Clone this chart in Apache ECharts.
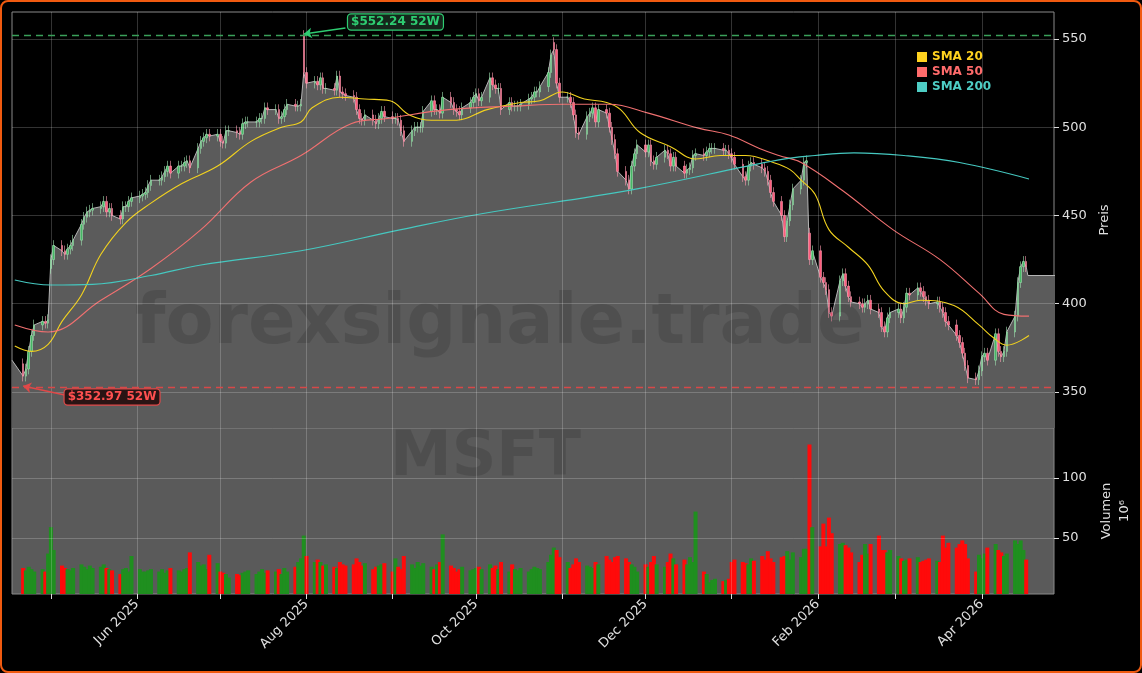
<!DOCTYPE html>
<html><head><meta charset="utf-8">
<script src="https://cdn.jsdelivr.net/npm/echarts@6/dist/echarts.min.js"></script>
<style>html,body{margin:0;padding:0;background:#000;}#c{width:1142px;height:673px;}
#b{position:absolute;left:0;top:0;width:1142px;height:673px;box-sizing:border-box;border:2px solid #f05a10;border-radius:8px;pointer-events:none;}</style>
</head><body><div id="c"></div><div id="b"></div>
<script>
// Daily closes, Mon-Fri weeks starting 2025-04-21
const closes = [
359,363,373,382,388, 390,389,391,425,433, 430,428,431,433,436, 445,449,452,453,454,
455,458,452,454,450, 448,455,455,458,460, 461,462,463,467,470, 470,472,475,478,474,
478,478,480,481,477, 488,492,494,496,495, 496,492,491,498,498, 497,496,502,503,503,
503,505,505,511,510, 510,505,506,510,513, 512,512,513,531,525, 526,524,528,522,522,
521,529,520,519,518, 517,510,505,504,507, 504,502,505,509,506, 505,505,504,498,492,
498,500,500,500,509, 515,510,510,508,517, 514,510,509,507,511, 514,517,519,515,517,
528,524,522,522,510, 514,512,512,512,513, 516,517,520,520,523, 531,541,544,525,517,
517,514,507,497,496, 506,508,511,503,510, 508,500,493,485,475, 470,465,478,485,490,
486,490,481,479,483, 487,485,478,483,478, 474,476,477,484,485, 484,486,488,488,488,
487,487,485,483,479, 472,470,478,480,479, 477,475,470,463,458, 450,438,447,456,465,
470,480,481,425,430, 415,412,408,395,393, 413,417,410,404,401, 400,398,400,402,397,
395,387,384,392,395, 397,392,398,406,405, 409,407,404,402,400, 401,398,395,390,388,
382,378,372,365,358, 357,362,370,372,368, 383,373,370,373,384, 393,412,421,424,421];
// Volume in millions
const volumes = [
25,23,26,24,22, 24,22,37,59,40, 27,25,24,23,25, 28,26,24,27,25,
26,28,25,24,23, 20,24,25,22,35, 24,22,22,23,24, 22,24,21,23,25,
23,22,24,25,38, 30,27,28,24,36, 29,22,21,20,17, 20,19,21,22,23,
20,22,24,21,23, 22,24,20,25,22, 26,30,33,52,35, 30,32,30,27,28,
26,25,30,28,27, 28,33,30,27,29, 24,26,27,28,29, 22,33,26,24,35,
28,25,30,27,29, 26,24,28,30,53, 27,25,22,24,26, 23,24,25,26,24,
28,25,27,24,30, 22,28,24,23,25, 22,24,26,25,24, 30,36,42,40,34,
30,25,28,33,30, 27,26,25,30,28, 35,32,30,34,35, 33,30,28,26,22,
28,26,30,35,28, 26,30,37,33,28, 32,28,34,30,72, 22,20,13,15,16,
14,15,16,30,32, 30,29,28,33,31, 35,32,39,33,30, 34,35,39,32,38,
34,41,41,128,59, 43,62,43,67,54, 45,46,44,42,38, 30,36,45,37,45,
52,40,40,38,40, 35,33,31,32,33, 34,30,31,32,33, 31,30,52,42,46,
42,45,48,45,33, 22,36,33,37,42, 45,40,38,35,37, 48,45,48,40,32];
const firstOpen = 366;
const priorDate = '2025-04-17', priorClose = 368;
const gapDates = ['2025-05-01','2025-07-31','2025-10-29','2026-01-29'];
const gapOpens = [420, 552, 548, 440];
const sma20 = [['2025-04-18',376],['2025-04-24',373],['2025-04-30',377],['2025-05-05',390],['2025-05-12',405],['2025-05-19',428],['2025-05-28',446],['2025-06-06',457],['2025-06-17',468],['2025-06-30',478],['2025-07-12',492],['2025-07-23',500],['2025-07-30',503],['2025-08-03',511],['2025-08-13',517],['2025-08-22',516],['2025-08-31',515],['2025-09-07',507],['2025-09-15',504],['2025-09-24',504],['2025-10-05',510],['2025-10-17',514],['2025-10-24',515],['2025-11-01',520],['2025-11-09',516],['2025-11-17',514],['2025-11-22',510],['2025-11-29',497],['2025-12-10',489],['2025-12-19',482],['2025-12-28',484],['2026-01-06',484],['2026-01-16',480],['2026-01-22',476],['2026-01-26',470],['2026-01-31',462],['2026-02-05',442],['2026-02-12',432],['2026-02-19',422],['2026-02-25',407],['2026-03-04',400],['2026-03-10',402],['2026-03-22',399],['2026-03-31',388],['2026-04-05',381],['2026-04-10',376.5],['2026-04-18',382]];
const sma50 = [['2025-04-18',388],['2025-04-30',384],['2025-05-19',402],['2025-06-06',420],['2025-06-24',442],['2025-07-12',469],['2025-07-30',484],['2025-08-17',502],['2025-08-30',505],['2025-09-21',510],['2025-10-15',512],['2025-11-02',513],['2025-11-18',513],['2025-12-02',508],['2025-12-20',499.5],['2025-12-31',495.6],['2026-01-11',488],['2026-01-18',484],['2026-01-26',480],['2026-02-10',464],['2026-02-28',442],['2026-03-17',425],['2026-03-31',406],['2026-04-09',394],['2026-04-18',393]];
const sma200 = [['2025-04-18',413.5],['2025-05-01',410.6],['2025-05-16',411],['2025-06-06',416],['2025-06-24',422],['2025-07-30',430],['2025-09-04',442],['2025-10-03',451],['2025-11-26',464.5],['2026-01-18',481.5],['2026-01-31',484],['2026-02-14',485.5],['2026-03-04',484],['2026-03-24',480],['2026-04-18',470.7]];
const priceTicks = [350,400,450,500,550];
const volTicks = [50,100];
const high52 = 552.24, low52 = 352.97;
const monthTicks = ['2025-05-01','2025-06-01','2025-07-01','2025-08-01','2025-09-01','2025-10-01','2025-11-01','2025-12-01','2026-01-01','2026-02-01','2026-03-01','2026-04-01'];
const labelMonths = ['2025-06-01','2025-08-01','2025-10-01','2025-12-01','2026-02-01','2026-04-01'];
const monthNames = ['Jan','Feb','Mar','Apr','May','Jun','Jul','Aug','Sep','Oct','Nov','Dec'];

const DAY = 86400000;
const ts = s => Date.parse(s+'T00:00:00Z');
const start = Date.UTC(2025,3,21);
const dates = closes.map((_, i) => start + (Math.floor(i/5)*7 + i%5)*DAY);
const iso = t => new Date(t).toISOString().slice(0,10);
const gapMap = {}; gapDates.forEach((d,i)=>gapMap[d]=gapOpens[i]);
const candles = closes.map((c,i) => {
  let o = i===0 ? firstOpen : closes[i-1];
  const d = iso(dates[i]); if (gapMap[d]!==undefined) o = gapMap[d];
  const w = 3;
  return [dates[i], o, c, Math.min(o,c)-w, Math.max(o,c)+w];
});
const lastT = dates[dates.length-1];
const area = [[ts(priorDate), priorClose]].concat(closes.map((c,i)=>[dates[i],c]));
area.push([lastT+DAY*0.6, 416]); area.push([Date.UTC(2026,3,28), 416]);
const vol = volumes.map((v,i)=>({value:[dates[i],v], itemStyle:{color: (i>0 && closes[i]<closes[i-1]) || (i===0) ? '#ff0a0a' : '#1f8f1f'}}));
const xMin = ts('2025-04-17'), xMax = ts('2026-04-27');
const gridColor = 'rgba(255,255,255,0.2)';
const vLines = monthTicks.map(m=>({xAxis: ts(m)}));

const chart = echarts.init(document.getElementById('c'));
const xBase = {type:'value', min:xMin, max:xMax, scale:true, splitLine:{show:false}, axisLine:{show:false}};
chart.setOption({
  animation:false,
  backgroundColor:'#000',
  grid:[
    {left:12, right:88, top:12, height:416, show:true, backgroundColor:'#000', borderColor:'#8a8a8a', borderWidth:1},
    {left:12, right:88, top:428, height:166, show:true, backgroundColor:'#5a5a5a', borderColor:'#8a8a8a', borderWidth:1}
  ],
  legend:{left:912, top:46, orient:'vertical', itemGap:3, itemWidth:10, itemHeight:10, icon:'rect',
    textStyle:{fontWeight:'bold', fontSize:12, fontFamily:'DejaVu Sans'},
    data:[{name:'SMA 20', textStyle:{color:'#ffd21f'}},{name:'SMA 50', textStyle:{color:'#ff6b6b'}},{name:'SMA 200', textStyle:{color:'#4ecdc4'}}]},
  xAxis:[
    Object.assign({gridIndex:0, axisTick:{show:false}, axisLabel:{show:false}}, xBase),
    Object.assign({gridIndex:1,
      axisTick:{show:true, length:5, inside:false, lineStyle:{color:'#ddd'}, customValues: monthTicks.map(ts)},
      axisLabel:{show:true, rotate:45, color:'#e0e0e0', fontSize:13, fontFamily:'DejaVu Sans', margin:8,
        customValues: labelMonths.map(ts), formatter: v => { const d=new Date(v); return monthNames[d.getUTCMonth()]+' '+d.getUTCFullYear(); }}}, xBase)
  ],
  yAxis:[
    {gridIndex:0, type:'value', position:'right', min:329.6, max:565.3, splitLine:{show:false},
     axisLine:{show:false}, axisTick:{show:true, length:5, lineStyle:{color:'#ddd'}, customValues:priceTicks},
     axisLabel:{color:'#e0e0e0', fontSize:13, fontFamily:'DejaVu Sans', margin:8, customValues:priceTicks},
     name:'Preis', nameLocation:'middle', nameRotate:90, nameGap:42, nameTextStyle:{color:'#e0e0e0', fontSize:13, fontFamily:'DejaVu Sans'}},
    {gridIndex:1, type:'value', position:'right', min:3.3, max:141.7, splitLine:{show:false},
     axisLine:{show:false}, axisTick:{show:true, length:5, lineStyle:{color:'#ddd'}, customValues:volTicks},
     axisLabel:{color:'#e0e0e0', fontSize:13, fontFamily:'DejaVu Sans', margin:8, customValues:volTicks},
     name:'Volumen\n10⁶', nameLocation:'middle', nameRotate:90, nameGap:38, nameTextStyle:{color:'#e0e0e0', fontSize:13, fontFamily:'DejaVu Sans', lineHeight:18}}
  ],
  graphic:[
    {type:'text', left:135, top:290, z:5, silent:true, style:{text:'forexsignale.trade', font:'bold 70px "DejaVu Sans"', fill:'rgba(0,0,0,0.13)'}},
    {type:'text', left:390, top:428, z:5, silent:true, style:{text:'MSFT', font:'bold 62px "DejaVu Sans"', fill:'rgba(0,0,0,0.13)'}}
  ],
  series:[
    {type:'line', name:'area', xAxisIndex:0, yAxisIndex:0, data:area, showSymbol:false, z:1,
     lineStyle:{color:'#b5b5b5', width:1}, areaStyle:{color:'#5b5b5b', opacity:1},
     markLine:{silent:true, symbol:'none', label:{show:false}, lineStyle:{color:gridColor, type:'solid', width:1},
       data: priceTicks.map(v=>({yAxis:v})).concat(vLines)}},
    {type:'candlestick', name:'price', xAxisIndex:0, yAxisIndex:0, data:candles, barWidth:2, z:3,
     itemStyle:{color:'#45b865', color0:'#ff5c7c', borderColor:'#9fe0b0', borderColor0:'#ff9ab0', borderWidth:0.6},
     markLine:{silent:true, symbol:'none', label:{show:false},
       data:[{yAxis:high52, lineStyle:{color:'#3aa05a', type:[7,5], width:1.4}},{yAxis:low52, lineStyle:{color:'#d84848', type:[7,5], width:1.4}},
         [{coord:[ts('2025-08-15'),556.2], lineStyle:{color:'#2ecc71', type:'solid', width:1.5}, symbol:'none'},{coord:[ts('2025-07-31'),552.8], symbol:'arrow', symbolSize:8}],
         [{coord:[ts('2025-05-06'),348.3], lineStyle:{color:'#e04848', type:'solid', width:1.5}, symbol:'none'},{coord:[ts('2025-04-21'),353.4], symbol:'arrow', symbolSize:8}]]},
     markPoint:{symbol:'rect', symbolSize:0, silent:true,
       data:[{coord:[ts('2025-09-02'),559.6], label:{show:true, formatter:'$552.24 52W', color:'#2ecc71', fontWeight:'bold', fontSize:12, fontFamily:'DejaVu Sans', backgroundColor:'#15261b', borderColor:'#2ecc71', borderWidth:1.2, borderRadius:3, padding:[2,3,1,3]}},
             {coord:[ts('2025-05-23'),347.2], label:{show:true, formatter:'$352.97 52W', color:'#ff5050', fontWeight:'bold', fontSize:12, fontFamily:'DejaVu Sans', backgroundColor:'#2a1414', borderColor:'#e04848', borderWidth:1.2, borderRadius:3, padding:[2,3,1,3]}}]}},
    {type:'line', name:'SMA 20', xAxisIndex:0, yAxisIndex:0, data:sma20.map(p=>[ts(p[0]),p[1]]), smooth:0.4, showSymbol:false, z:4, lineStyle:{color:'#f2d21e', width:1.1}, itemStyle:{color:'#ffd21f'}},
    {type:'line', name:'SMA 50', xAxisIndex:0, yAxisIndex:0, data:sma50.map(p=>[ts(p[0]),p[1]]), smooth:0.4, showSymbol:false, z:4, lineStyle:{color:'#f07070', width:1.1}, itemStyle:{color:'#ff6b6b'}},
    {type:'line', name:'SMA 200', xAxisIndex:0, yAxisIndex:0, data:sma200.map(p=>[ts(p[0]),p[1]]), smooth:0.4, showSymbol:false, z:4, lineStyle:{color:'#45c8c0', width:1.1}, itemStyle:{color:'#4ecdc4'}},
    {type:'bar', name:'vol', xAxisIndex:1, yAxisIndex:1, data:vol, barWidth:4, z:2,
     markLine:{silent:true, symbol:'none', label:{show:false}, lineStyle:{color:gridColor, type:'solid', width:1},
       data: volTicks.map(v=>({yAxis:v})).concat(vLines)}}
  ]
});
</script></body></html>
